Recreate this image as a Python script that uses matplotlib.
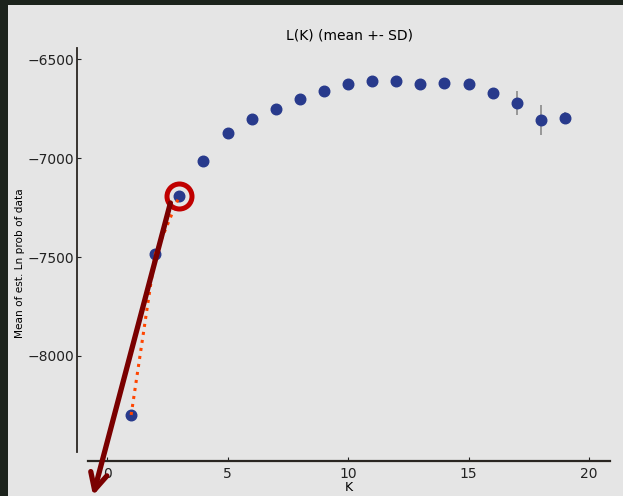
"""L(K) (mean +- SD) plot from a STRUCTURE run, with the annotations."""

import matplotlib

matplotlib.use("Agg")
import matplotlib.pyplot as plt
from matplotlib.patches import Rectangle

k_values = list(range(1, 20))
mean_lnp = [
    -8298, -7485, -7192, -7016, -6871, -6803, -6753, -6702, -6662, -6626,
    -6612, -6612, -6626, -6620, -6624, -6670, -6722, -6808, -6798,
]
sd_lnp = [0, 5, 0, 0, 0, 0, 0, 0, 8, 0, 14, 8, 0, 0, 0, 6, 62, 75, 30]

highlight_k = 3
arrow_start = (2.63, -7227)
arrow_tip = (-0.58, -8705)

point_color = "#283a8c"
panel_color = "#e5e5e5"

fig = plt.figure(figsize=(6.23, 4.96), dpi=100, facecolor="#1c231c")
fig.add_artist(
    Rectangle((8 / 623, 0), 1, 1 - 5 / 496, transform=fig.transFigure,
              facecolor=panel_color, edgecolor="none", zorder=-10)
)
ax = fig.add_axes([88 / 623, 1 - 452 / 496, 522 / 623, 404 / 496])
ax.set_facecolor(panel_color)

ax.errorbar(k_values, mean_lnp, yerr=sd_lnp, fmt="o", color=point_color,
            markersize=7.6, ecolor="#8a8a8a", elinewidth=1.2, capsize=0,
            zorder=3)

# dotted trace over the first three K values
ax.plot(k_values[:3], mean_lnp[:3], linestyle=":", color="#ff4500",
        linewidth=2.2, zorder=4)

# ring around the chosen K
hi = k_values.index(highlight_k)
ax.plot(k_values[hi], mean_lnp[hi], marker="o", markersize=18,
        markerfacecolor="none", markeredgecolor="#c00000",
        markeredgewidth=3.6, zorder=5, clip_on=False)

ax.annotate("", xy=arrow_tip, xytext=arrow_start,
            arrowprops=dict(arrowstyle="->,head_length=1.2,head_width=0.6",
                            color="#7a0000", lw=3.8, shrinkA=0, shrinkB=0),
            annotation_clip=False, zorder=6)

ax.set_xlim(-0.79, 20.87)
ax.set_ylim(-8485, -6444)
ax.set_xticks([0, 5, 10, 15, 20])
ax.set_yticks([-8000, -7500, -7000, -6500])

for side in ("top", "right"):
    ax.spines[side].set_visible(False)
ax.spines["left"].set_position(("outward", 8))
ax.spines["bottom"].set_position(("outward", 6.5))
ax.spines["left"].set_linewidth(1.3)
ax.spines["bottom"].set_linewidth(1.6)
ax.spines["left"].set_color("#2a2622")
ax.spines["bottom"].set_color("#2a2622")
ax.tick_params(direction="in", length=3, width=0.8, labelsize=10,
               colors="#222222")
ax.tick_params(axis="y", pad=2)
ax.tick_params(axis="x", pad=4)

ax.set_title("L(K) (mean +- SD)", fontsize=10, pad=6)
ax.set_xlabel("K", fontsize=9, labelpad=0)
ax.set_ylabel("Mean of est. Ln prob of data", fontsize=7.6)
ax.yaxis.set_label_coords(-0.12, 0.468)

fig.savefig("out.png", dpi=100, facecolor=fig.get_facecolor())
plt.close(fig)
